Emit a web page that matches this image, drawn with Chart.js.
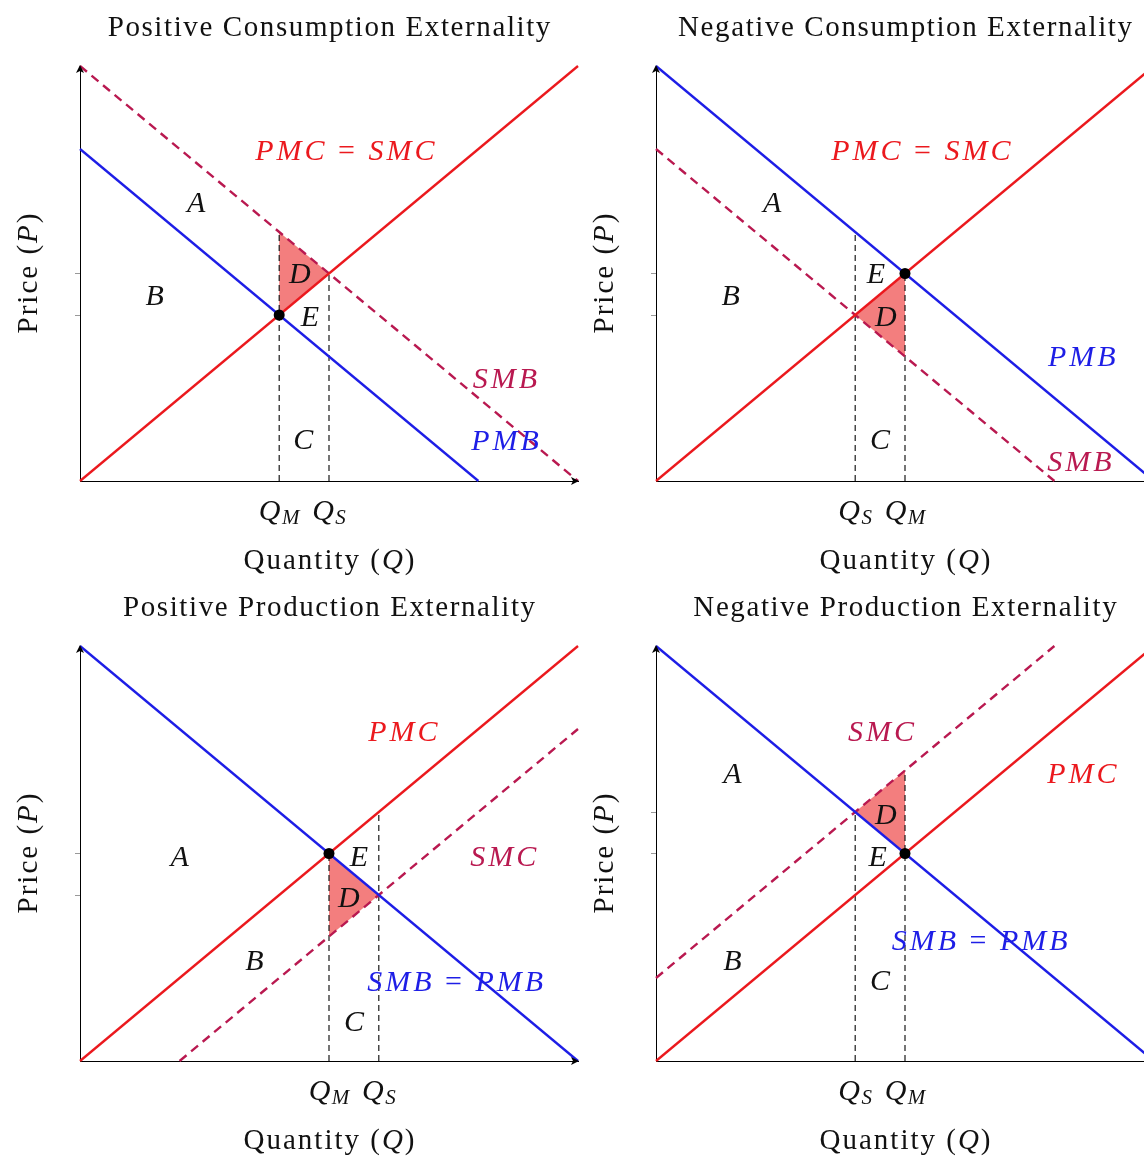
<!DOCTYPE html>
<html lang="en">
<head>
    <meta charset="UTF-8">
    <title>Externalities</title>
    <script src="https://cdn.jsdelivr.net/npm/chart.js"></script>
    <style>
        html, body { margin: 0; padding: 0; background: #fff; overflow: hidden; }
        body { width: 1144px; height: 1156px; position: relative; }
        canvas { position: absolute; }
    </style>
</head>
<body>
    <canvas id="c0" width="600" height="580" style="left:0;top:0"></canvas>
    <canvas id="c1" width="600" height="580" style="left:576px;top:0"></canvas>
    <canvas id="c2" width="600" height="580" style="left:0;top:580px"></canvas>
    <canvas id="c3" width="600" height="580" style="left:576px;top:580px"></canvas>

    <script>
        // quantity on x (0..6), price on y (0..5)
        const titles = [
            'Positive Consumption Externality', 'Negative Consumption Externality',
            'Positive Production Externality', 'Negative Production Externality'
        ];

        // positive consumption
        const pcPMC = [[0, 0], [6, 5]];
        const pcPMB = [[0, 4], [4.8, 0]];
        const pcSMB = [[0, 5], [6, 0]];
        const pcLoss = [[2.4, 2], [2.4, 3], [3, 2.5], [2.4, 2]];
        const pcQ = [['M', 2.4, 3], ['S', 3, 2.5]];
        const pcTicks = [2, 2.5];
        const pcEq = [2.4, 2];
        const pcText = [['A', 1.4, 3.36], ['B', 0.9, 2.24], ['C', 2.69, 0.5], ['D', 2.65, 2.5], ['E', 2.77, 1.99],
                        ['PMC = SMC', 3.19, 3.99], ['SMB', 5.12, 1.24], ['PMB', 5.12, 0.49]];

        // negative consumption
        const ncPMC = [[0, 0], [6, 5]];
        const ncPMB = [[0, 5], [6, 0]];
        const ncSMB = [[0, 4], [4.8, 0]];
        const ncLoss = [[2.4, 2], [3, 2.5], [3, 1.5], [2.4, 2]];
        const ncQ = [['S', 2.4, 3], ['M', 3, 2.5]];
        const ncTicks = [2, 2.5];
        const ncEq = [3, 2.5];
        const ncText = [['A', 1.4, 3.36], ['B', 0.9, 2.24], ['C', 2.7, 0.5], ['D', 2.77, 1.99], ['E', 2.65, 2.5],
                        ['PMC = SMC', 3.19, 3.99], ['PMB', 5.13, 1.5], ['SMB', 5.1, 0.24]];

        // positive production
        const ppPMC = [[0, 0], [6, 5]];
        const ppPMB = [[0, 5], [6, 0]];
        const ppSMC = [[1.2, 0], [6, 4]];
        const ppLoss = [[3, 2.5], [3.6, 2], [3, 1.5], [3, 2.5]];
        const ppQ = [['M', 3, 2.5], ['S', 3.6, 3]];
        const ppTicks = [2, 2.5];
        const ppEq = [3, 2.5];
        const ppText = [['PMC', 3.89, 3.98], ['A', 1.2, 2.47], ['E', 3.36, 2.47], ['SMC', 5.1, 2.47], ['D', 3.24, 1.98],
                        ['B', 2.1, 1.22], ['SMB = PMB', 4.52, 0.96], ['C', 3.3, 0.48]];

        // negative production
        const npPMC = [[0, 0], [6, 5]];
        const npPMB = [[0, 5], [6, 0]];
        const npSMC = [[0, 1], [4.8, 5]];
        const npLoss = [[2.4, 3], [3, 3.5], [3, 2.5], [2.4, 3]];
        const npQ = [['S', 2.4, 3], ['M', 3, 3.5]];
        const npTicks = [2.5, 3];
        const npEq = [3, 2.5];
        const npText = [['SMC', 2.71, 3.98], ['A', 0.92, 3.47], ['PMC', 5.13, 3.47], ['D', 2.77, 2.98], ['E', 2.67, 2.47],
                        ['SMB = PMB', 3.9, 1.46], ['B', 0.92, 1.22], ['C', 2.7, 0.98]];

        const RED = 'rgb(235,25,30)';
        const BLUE = 'rgb(30,30,230)';
        const PURPLE = 'rgb(185,25,80)';
        const SHADE = 'rgba(240,90,90,0.78)';
        const SERIF = '"Liberation Serif", "Times New Roman", serif';

        function textColor(s) {
            if (s === 'PMC' || s === 'PMC = SMC') return RED;
            if (s === 'PMB' || s === 'SMB = PMB') return BLUE;
            if (s === 'SMB' || s === 'SMC') return PURPLE;
            return '#111';
        }

        const pts = a => a.map(([x, y]) => ({ x: x, y: y }));

        // draws runs of [text, italic, size, dy] left to right, centred on x
        function drawRuns(ctx, runs, x, y, spacing) {
            ctx.letterSpacing = spacing + 'px';
            let total = 0;
            const widths = runs.map(r => {
                ctx.font = (r[1] ? 'italic ' : '') + r[2] + 'px ' + SERIF;
                const w = ctx.measureText(r[0]).width;
                total += w;
                return w;
            });
            total -= spacing; // no trailing spacing after last glyph
            let cx = x - total / 2;
            runs.forEach((r, i) => {
                ctx.font = (r[1] ? 'italic ' : '') + r[2] + 'px ' + SERIF;
                ctx.fillText(r[0], cx, y + (r[3] || 0));
                cx += widths[i];
            });
            ctx.letterSpacing = '0px';
        }

        function mathRuns(s, size) {
            return s.split(' ').map(w => w === '=' ? [' = ', false, size] : [w, true, size]);
        }

        const overlay = {
            id: 'overlay',
            afterDraw(chart) {
                const o = chart.options.plugins.overlay;
                const ctx = chart.ctx;
                const xs = chart.scales.x, ys = chart.scales.y;
                const a = chart.chartArea;
                ctx.save();

                // arrow tips on the axes
                ctx.fillStyle = '#000';
                ctx.beginPath();
                ctx.moveTo(a.right + 1, a.bottom);
                ctx.lineTo(a.right - 7, a.bottom - 4);
                ctx.lineTo(a.right - 5, a.bottom);
                ctx.lineTo(a.right - 7, a.bottom + 4);
                ctx.closePath();
                ctx.fill();
                ctx.beginPath();
                ctx.moveTo(a.left, a.top - 1);
                ctx.lineTo(a.left - 4, a.top + 7);
                ctx.lineTo(a.left, a.top + 5);
                ctx.lineTo(a.left + 4, a.top + 7);
                ctx.closePath();
                ctx.fill();

                ctx.textBaseline = 'middle';
                ctx.fillStyle = '#111';
                const mid = (a.left + a.right) / 2;

                drawRuns(ctx, [[o.title, false, 29]], mid, a.top - 38, 1.6);
                drawRuns(ctx, [['Quantity (', false, 29], ['Q', true, 29], [')', false, 29]], mid, a.bottom + 80, 2);

                ctx.save();
                ctx.translate(a.left - 51, (a.top + a.bottom) / 2);
                ctx.rotate(-Math.PI / 2);
                drawRuns(ctx, [['Price (', false, 29], ['P', true, 29], [')', false, 29]], 0, 0, 2);
                ctx.restore();

                // Q_M / Q_S under the axis
                o.q.forEach(q => {
                    const px = xs.getPixelForValue(q[1]);
                    drawRuns(ctx, [['Q', true, 30], [q[0], true, 21, 6]], px, a.bottom + 31, 1.5);
                });

                o.text.forEach(t => {
                    ctx.fillStyle = textColor(t[0]);
                    drawRuns(ctx, mathRuns(t[0], 30), xs.getPixelForValue(t[1]), ys.getPixelForValue(t[2]) + 2, 3);
                });

                ctx.restore();
            }
        };

        function makePanel(canvasId, title, pmc, pmb, social, socialName, loss, q, ticks, eq, text) {
            const guides = q.map(g => ({
                data: pts([[g[1], 0], [g[1], g[2]]]),
                borderColor: '#1a1a1a', borderWidth: 1.2, borderDash: [6, 4]
            }));
            const datasets = [
                { data: pts([eq]), showLine: false, pointRadius: 5.5, pointBackgroundColor: '#000', pointBorderWidth: 0 },
                { data: pts(pmc), borderColor: RED, borderWidth: 2.3 },
                { data: pts(pmb), borderColor: BLUE, borderWidth: 2.3 },
                { label: socialName, data: pts(social), borderColor: PURPLE, borderWidth: 2.4, borderDash: [9, 6] },
                ...guides,
                { data: pts(loss), borderWidth: 0, backgroundColor: SHADE, fill: 'shape' }
            ];
            datasets.forEach(d => {
                if (d.pointRadius === undefined) d.pointRadius = 0;
                d.tension = 0;
                d.clip = false;
            });

            return new Chart(document.getElementById(canvasId), {
                type: 'line',
                data: { datasets: datasets },
                options: {
                    responsive: false,
                    animation: false,
                    events: [],
                    layout: { padding: { left: 80, right: 22, top: 66, bottom: 99 } },
                    scales: {
                        x: {
                            type: 'linear', min: 0, max: 6,
                            afterFit: s => { s.height = 0; },
                            ticks: { display: false },
                            grid: { display: false },
                            border: { display: true, color: '#000', width: 1 }
                        },
                        y: {
                            type: 'linear', min: 0, max: 5,
                            afterFit: s => { s.width = 0; },
                            afterBuildTicks: s => { s.ticks = ticks.map(v => ({ value: v })); },
                            ticks: { display: false },
                            grid: { display: true, drawOnChartArea: false, drawTicks: true, tickLength: 5, color: '#999' },
                            border: { display: true, color: '#000', width: 1 }
                        }
                    },
                    plugins: {
                        legend: { display: false },
                        tooltip: { enabled: false },
                        overlay: { title: title, q: q, text: text }
                    }
                },
                plugins: [overlay]
            });
        }

        makePanel('c0', titles[0], pcPMC, pcPMB, pcSMB, 'SMB', pcLoss, pcQ, pcTicks, pcEq, pcText);
        makePanel('c1', titles[1], ncPMC, ncPMB, ncSMB, 'SMB', ncLoss, ncQ, ncTicks, ncEq, ncText);
        makePanel('c2', titles[2], ppPMC, ppPMB, ppSMC, 'SMC', ppLoss, ppQ, ppTicks, ppEq, ppText);
        makePanel('c3', titles[3], npPMC, npPMB, npSMC, 'SMC', npLoss, npQ, npTicks, npEq, npText);
    </script>
</body>
</html>
